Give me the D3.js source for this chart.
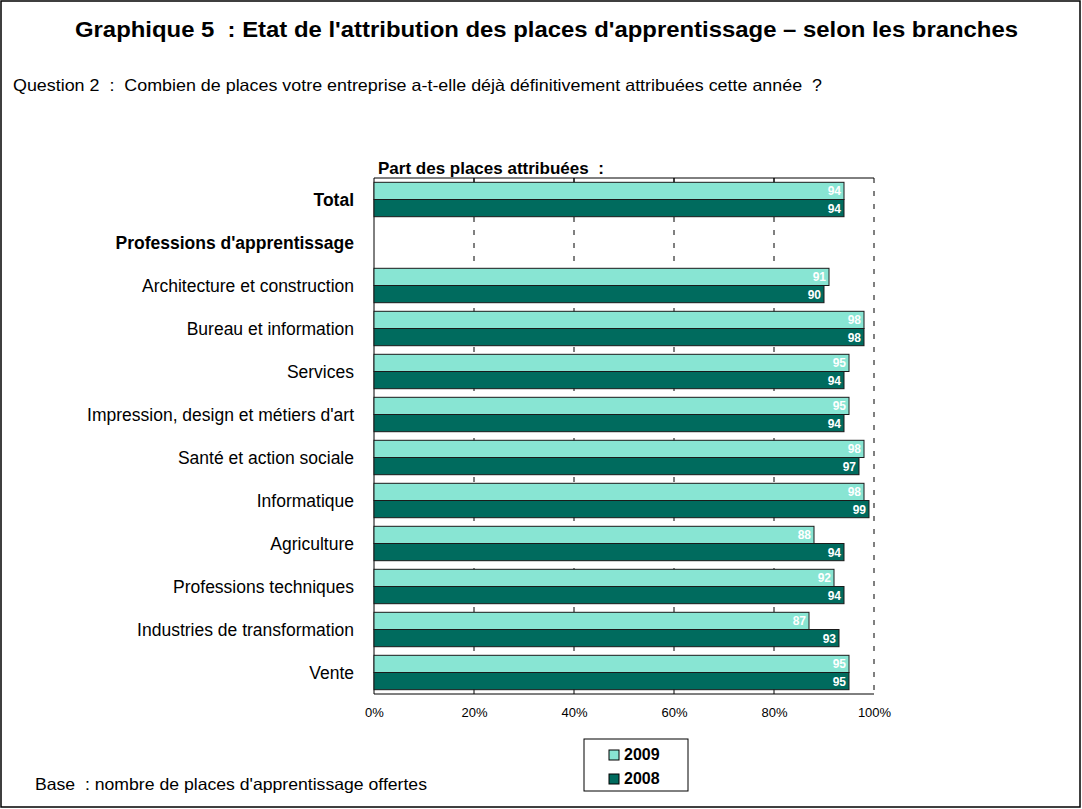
<!DOCTYPE html>
<html>
<head>
<meta charset="utf-8">
<script src="https://cdn.jsdelivr.net/npm/d3@7"></script>
<style>
  body { margin: 0; background: #fff; }
  svg { font-family: "Liberation Sans", Arial, sans-serif; }
  svg text { white-space: pre; }
</style>
</head>
<body>
<svg id="chart" width="1082" height="809"></svg>
<script>
// data
var categories = ["Total", "Professions d'apprentissage", "Architecture et construction", "Bureau et information",
  "Services", "Impression, design et métiers d'art", "Santé et action sociale", "Informatique",
  "Agriculture", "Professions techniques", "Industries de transformation", "Vente"];
var boldCats = ["Total", "Professions d'apprentissage"];
var values2009 = [94, null, 91, 98, 95, 95, 98, 98, 88, 92, 87, 95];
var values2008 = [94, null, 90, 98, 94, 94, 97, 99, 94, 94, 93, 95];
var seriesNames = ["2009", "2008"];
var seriesColors = ["#88e5d3", "#006b5e"];
var xTicks = [0, 20, 40, 60, 80, 100];

var svg = d3.select("#chart");

// outer frame
svg.append("rect")
    .attr("x", 1).attr("y", 1)
    .attr("width", 1079).attr("height", 806)
    .attr("fill", "none").attr("stroke", "#000").attr("stroke-width", 1.5);

svg.append("text")
    .attr("x", 75).attr("y", 37)
    .attr("font-size", 22).attr("font-weight", "bold")
    .attr("textLength", 943).attr("lengthAdjust", "spacingAndGlyphs")
    .text("Graphique 5  : Etat de l'attribution des places d'apprentissage – selon les branches");

svg.append("text")
    .attr("x", 13).attr("y", 91)
    .attr("font-size", 16.5)
    .attr("textLength", 809).attr("lengthAdjust", "spacingAndGlyphs")
    .text("Question 2  :  Combien de places votre entreprise a-t-elle déjà définitivement attribuées cette année  ?");

var pLeft = 374, pRight = 874, pTop = 178, pBottom = 694;

var x = d3.scaleLinear().domain([0, 100]).range([pLeft, pRight]);
var y = d3.scaleBand().domain(categories).range([pTop, pBottom]).paddingInner(0.2).paddingOuter(0.1);
var ySub = d3.scaleBand().domain(seriesNames).range([0, y.bandwidth()]);

svg.append("text")
    .attr("x", pLeft + 4).attr("y", pTop - 4)
    .attr("font-size", 17).attr("font-weight", "bold")
    .text("Part des places attribuées  :");

// dashed gridlines
svg.append("g").selectAll("line")
    .data(xTicks.slice(1))
    .enter().append("line")
    .attr("x1", function (d) { return x(d); })
    .attr("x2", function (d) { return x(d); })
    .attr("y1", pTop).attr("y2", pBottom)
    .attr("stroke", "#000").attr("stroke-width", 1)
    .attr("stroke-dasharray", "5,8");

// plot border left/top/bottom
svg.append("path")
    .attr("d", "M" + pRight + "," + pTop + "H" + pLeft + "V" + pBottom + "H" + pRight)
    .attr("fill", "none").attr("stroke", "#000").attr("stroke-width", 1);

// ticks top and bottom
svg.append("g").selectAll("line")
    .data(xTicks.slice(1, -1))
    .enter().append("line")
    .attr("x1", function (d) { return x(d); })
    .attr("x2", function (d) { return x(d); })
    .attr("y1", pTop).attr("y2", pTop + 4)
    .attr("stroke", "#000");
svg.append("g").selectAll("line")
    .data(xTicks.slice(1, -1))
    .enter().append("line")
    .attr("x1", function (d) { return x(d); })
    .attr("x2", function (d) { return x(d); })
    .attr("y1", pBottom).attr("y2", pBottom - 4)
    .attr("stroke", "#000");

// x axis labels
var xAxis = d3.axisBottom(x).tickValues(xTicks).tickSize(0).tickPadding(14)
    .tickFormat(function (d) { return d + "%"; });
var gx = svg.append("g").attr("transform", "translate(0," + pBottom + ")").call(xAxis);
gx.select(".domain").remove();
gx.selectAll("text").attr("font-size", 13).attr("font-family", "Liberation Sans, Arial, sans-serif");

// category labels
svg.append("g").selectAll("text")
    .data(categories)
    .enter().append("text")
    .attr("x", 354)
    .attr("y", function (d) { return y(d) + y.bandwidth() / 2 + 6; })
    .attr("text-anchor", "end")
    .attr("font-size", 17.5)
    .attr("font-weight", function (d) { return boldCats.indexOf(d) >= 0 ? "bold" : "normal"; })
    .text(function (d) { return d; });

// bars
var seriesData = [values2009, values2008];
seriesData.forEach(function (vals, si) {
    var rows = categories.map(function (c, i) { return {cat: c, v: vals[i]}; })
        .filter(function (d) { return d.v !== null; });
    var g = svg.append("g");
    g.selectAll("rect")
        .data(rows)
        .enter().append("rect")
        .attr("x", pLeft)
        .attr("y", function (d) { return y(d.cat) + ySub(seriesNames[si]); })
        .attr("width", function (d) { return x(d.v) - pLeft; })
        .attr("height", ySub.bandwidth())
        .attr("fill", seriesColors[si])
        .attr("stroke", "#1a1a1a").attr("stroke-width", 1);
    g.selectAll("text")
        .data(rows)
        .enter().append("text")
        .attr("x", function (d) { return x(d.v) - 3; })
        .attr("y", function (d) { return y(d.cat) + ySub(seriesNames[si]) + ySub.bandwidth() / 2 + 4.5; })
        .attr("text-anchor", "end")
        .attr("font-size", 12).attr("font-weight", "bold")
        .attr("fill", "#fff")
        .text(function (d) { return d.v; });
});

// legend
var lg = svg.append("g").attr("transform", "translate(584,739)");
lg.append("rect").attr("width", 104).attr("height", 52)
    .attr("fill", "#fff").attr("stroke", "#000").attr("stroke-width", 1);
seriesNames.forEach(function (s, i) {
    lg.append("rect")
        .attr("x", 25).attr("y", 11 + i * 24)
        .attr("width", 10).attr("height", 10)
        .attr("fill", seriesColors[i]).attr("stroke", "#000");
    lg.append("text")
        .attr("x", 40).attr("y", 21 + i * 24)
        .attr("font-size", 16).attr("font-weight", "bold")
        .text(s);
});

svg.append("text")
    .attr("x", 35).attr("y", 790)
    .attr("font-size", 16.5)
    .attr("textLength", 392).attr("lengthAdjust", "spacingAndGlyphs")
    .text("Base  : nombre de places d'apprentissage offertes");
</script>
</body>
</html>
